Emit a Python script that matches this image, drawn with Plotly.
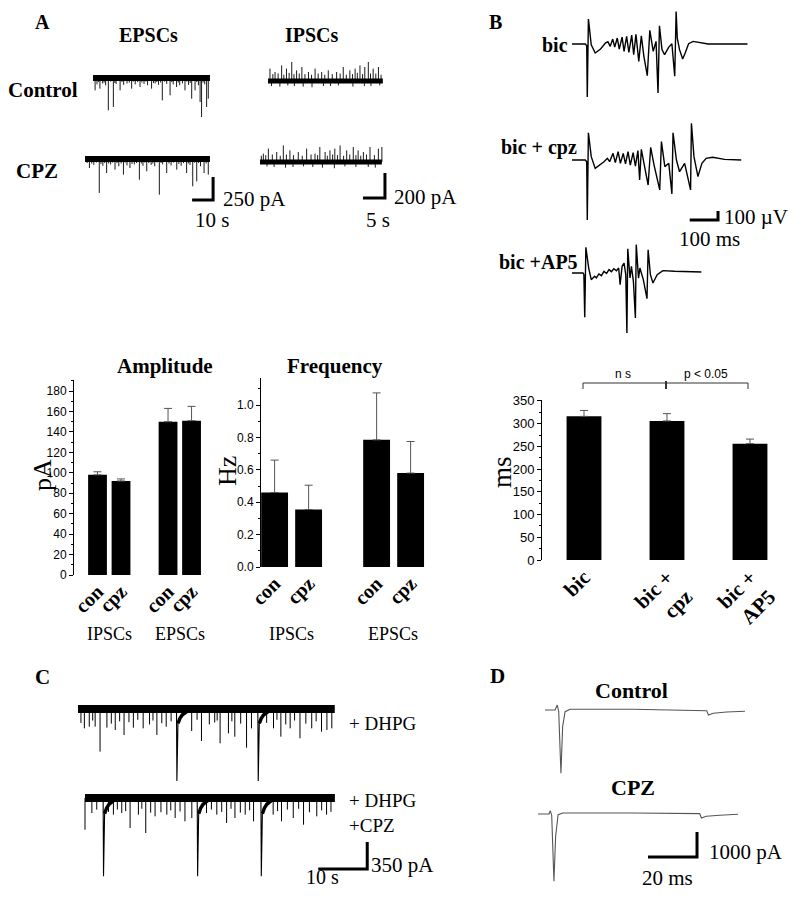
import plotly.graph_objects as go

W, H = 797, 899          # browser window (reference size)
OFF = 8                  # default page margin around the plot div
FW, FH = W - 2 * OFF, H - 2 * OFF
SERIF = "Liberation Serif"
SANS = "Liberation Sans"

# ======================= DATA =======================
# ---- Panel A: spontaneous EPSCs (time s, amplitude pA, inward) ----
epsc_ctrl_t = [1.0, 3.3, 7.3, 9.7, 12.9, 18.4, 22.4, 27.9, 33.0, 36.7, 39.8, 43.8, 47.0, 48.6, 51.0, 51.7, 54.1, 54.9,
               1.9, 4.6, 6.0, 11.0, 14.6, 16.2, 20.1, 24.3, 26.0, 29.6, 31.2, 35.1, 38.2, 41.3, 42.6, 45.5, 50.2, 53.2,
               2.6, 5.3, 8.4, 10.4, 13.8, 17.3, 19.2, 21.3, 23.3, 25.2, 28.8, 30.4, 32.2, 34.1, 37.5, 40.6, 44.7, 46.3, 49.4, 52.4]
epsc_ctrl_amp = [145, 127, 362, 326, 145, 127, 109, 127, 254, 199, 109, 145, 236, 145, 272, 435, 326, 236,
                 80, 70, 90, 75, 85, 70, 80, 75, 90, 70, 85, 75, 80, 90, 70, 85, 90, 80,
                 55, 60, 50, 65, 55, 60, 50, 55, 60, 50, 65, 55, 60, 50, 55, 60, 50, 65, 55, 60]
epsc_ctrl_dur = 55.7

epsc_cpz_t = [2.1, 6.8, 10.3, 14.3, 18.3, 21.4, 25.9, 29.4, 35.4, 38.9, 43.7, 48.4, 51.3, 53.2, 56.7, 58.7,
              4.2, 8.5, 12.2, 16.1, 20.0, 23.5, 27.6, 31.5, 33.2, 37.0, 41.0, 45.8, 50.0, 55.0,
              1.0, 3.2, 5.4, 7.6, 9.4, 11.3, 13.2, 15.2, 17.2, 19.1, 22.4, 24.6, 26.8, 28.5, 30.4, 32.3, 34.3,
              36.2, 40.0, 42.2, 44.7, 46.9, 49.2, 52.2, 54.1, 57.7]
epsc_cpz_amp = [109, 380, 163, 127, 181, 109, 236, 145, 399, 163, 127, 163, 308, 254, 163, 181,
                75, 85, 70, 90, 80, 70, 85, 75, 90, 70, 80, 85, 75, 90,
                55, 60, 50, 65, 55, 60, 50, 55, 60, 50, 65, 55, 60, 50, 55, 60, 50,
                55, 60, 50, 65, 55, 60, 50, 55, 60]
epsc_cpz_dur = 59.5

# ---- Panel A: spontaneous IPSCs (time s, amplitude pA, outward) ----
ipsc_ctrl_t = [0.45, 1.6, 3.1, 4.2, 5.4, 6.5, 7.7, 9.2, 10.7, 12.2, 13.7, 15.6, 17.1, 18.6, 19.8, 20.9, 22.0, 22.8, 23.9, 25.1,
               1.1, 2.3, 3.6, 4.8, 5.9, 7.1, 8.4, 9.9, 11.4, 12.9, 14.6, 16.4, 17.8, 19.2, 20.3, 21.5, 23.3, 24.5, 25.7]
ipsc_ctrl_amp = [99, 72, 125, 99, 152, 85, 112, 72, 99, 72, 85, 72, 112, 85, 99, 125, 112, 152, 99, 112,
                 55, 60, 50, 65, 55, 60, 55, 50, 60, 50, 55, 60, 50, 55, 65, 55, 60, 60, 50]
ipsc_ctrl_down_t = [0.8, 2.7, 4.5, 6.0, 8.0, 10.0, 12.6, 14.2, 16.0, 19.3, 21.9, 23.4, 25.4]
ipsc_ctrl_down_amp = [40, 45, 35, 40, 45, 50, 40, 40, 35, 45, 40, 40, 35]
ipsc_ctrl_dur = 26.1

ipsc_cpz_t = [0.76, 1.9, 3.8, 5.3, 6.8, 8.7, 10.6, 12.5, 13.6, 14.8, 15.9, 17.0, 18.2, 19.7, 21.2, 22.3, 23.5, 25.0, 26.9, 27.7,
              0.3, 1.3, 2.8, 4.6, 6.0, 7.6, 9.6, 11.6, 13.1, 15.3, 16.5, 17.6, 19.0, 20.4, 21.8, 22.9, 24.2, 26.0]
ipsc_cpz_amp = [67, 107, 80, 133, 93, 80, 107, 67, 120, 80, 93, 107, 133, 93, 120, 93, 80, 120, 107, 120,
                50, 55, 60, 50, 60, 55, 50, 60, 55, 50, 60, 55, 50, 60, 55, 50, 60, 55]
ipsc_cpz_down_t = [1.6, 3.2, 5.8, 7.5, 9.9, 12.0, 14.2, 16.9, 19.3, 21.8, 24.6, 26.2]
ipsc_cpz_down_amp = [35, 40, 45, 40, 35, 40, 45, 50, 35, 40, 40, 45]
ipsc_cpz_dur = 27.7

# ---- Panel A: bar charts ----
groups = ["IPSCs", "EPSCs"]
conds = ["con", "cpz"]
amp_vals = [98, 92, 150, 151]           # pA
amp_err = [3, 2, 13, 14]
freq_vals = [0.46, 0.355, 0.785, 0.58]  # Hz
freq_err = [0.20, 0.15, 0.29, 0.195]

# ---- Panel B: field potential traces (time ms, voltage µV) ----
bic_t = [0, 47, 52, 54, 58, 68, 82, 101, 118, 127, 135, 144, 151, 160, 167, 177, 184, 193, 201, 211, 218, 226, 236,
         245, 254, 266, 275, 287, 297, 304, 309, 318, 327, 342, 353, 363, 368, 372, 380, 391, 400, 412, 428, 445, 481, 620]
bic_v = [0, 0, -19, -589, 277, -8, -100, -56, 11, 26, -26, 55, -34, 66, -56, 77, -82, 85, -93, 100, -119, 107, -193,
         92, -137, -352, 151, -82, 29, -544, 203, -63, -119, -34, 3, -359, 362, 66, -63, -167, -100, 3, 29, 18, 0, 0]

bcpz_t = [0, 47, 52, 54, 58, 68, 82, 98, 113, 125, 133, 145, 153, 163, 171, 181, 189, 198, 206, 216, 224, 233, 239,
          245, 257, 269, 278, 290, 310, 316, 328, 342, 353, 357, 369, 380, 398, 419, 422, 431, 445, 459, 474, 497, 539, 598]
bcpz_v = [0, 0, -19, -666, 303, 37, -93, -56, -19, 19, -19, 74, -30, 93, -37, 74, -44, 93, -56, 81, -67, 104, -222,
          118, -74, -278, 141, -56, -333, 204, -74, -37, -377, 303, 0, -130, -37, -333, 407, 37, -185, -37, 19, 30, 7, 0]

bap5_t = [0, 39, 42, 45, 49, 59, 68, 76, 80, 86, 95, 104, 113, 122, 131, 139, 148, 157, 165, 170, 177, 184, 190, 194, 197,
          205, 210, 217, 224, 227, 235, 240, 252, 265, 269, 277, 286, 301, 321, 362, 457]
bap5_v = [0, 0, -19, -492, 285, 55, -74, -45, -37, -55, -11, -30, 19, -5, 37, 15, 48, 25, 55, -130, 74, 111, -19, -666, 270,
          -56, 74, -93, -500, 315, -56, 55, -74, -285, 259, -19, -111, -19, 26, 19, 11]

# ---- Panel B: burst duration bar chart ----
ms_cats = ["bic", "bic +<br>cpz", "bic +<br>AP5"]
ms_vals = [316, 306, 256]
ms_err = [13, 16, 10]
sig_labels = ["n s", "p < 0.05"]

# ---- Panel C: DHPG traces (time s, amplitude pA inward) ----
# large synchronous events (time, peak) and their recovery profile (s after peak, fraction of peak)
dhpg_big_t = [20.1, 36.7]
dhpg_big_amp = [934, 934]
dhpg_cpz_big_t = [3.7, 22.9, 35.9]
dhpg_cpz_big_amp = [1016, 1016, 1016]
recovery_dt = [0, 0.08, 0.3, 0.7, 1.2, 1.9, 2.8]
recovery_frac = [0, -1, -0.2, -0.13, -0.08, -0.04, 0]

dhpg_t = [4.5, 1.3, 2.3, 3.5, 5.9, 7.6, 9.4, 11.3, 13.3, 16.1, 18.0, 23.2, 25.2, 29.0, 30.7, 32.0, 34.4,
          35.4, 39.9, 41.4, 43.3, 45.3, 47.7, 49.7, 50.8, 51.8, 0.6, 6.8, 10.4, 14.6, 17.1, 26.8, 27.9, 33.2, 38.5, 42.4, 46.5,
          3.0, 8.5, 12.2, 15.3, 19.0, 24.3, 28.4, 31.4, 40.6, 44.2, 48.6]
dhpg_amp = [553, 251, 229, 229, 242, 272, 337, 242, 251, 337, 229, 285, 415, 445, 316, 359, 502,
            251, 251, 359, 251, 380, 251, 294, 272, 251, 180, 190, 170, 200, 185, 200, 175, 190, 180, 200, 190,
            150, 160, 140, 150, 160, 140, 150, 160, 140, 150, 160]
dhpg_dur = 52.4

dhpg_cpz_t = [0.0, 1.4, 2.4, 5.8, 7.5, 9.2, 10.9, 12.4, 14.3, 16.7, 18.4, 20.4, 21.8, 24.8, 26.9,
              28.9, 30.6, 32.7, 34.4, 38.4, 40.1, 42.5, 44.6, 47.3, 49.3, 4.8, 8.3, 13.4, 15.5, 19.4, 27.9, 31.7, 39.3, 45.8, 50.2,
              6.6, 11.6, 17.5, 25.8, 29.8, 33.6, 41.3, 43.6, 48.3]
dhpg_cpz_amp = [411, 195, 151, 216, 195, 389, 216, 454, 238, 216, 259, 303, 259, 195, 216,
                324, 259, 216, 303, 216, 303, 259, 346, 238, 216, 180, 170, 190, 185, 175, 180, 190, 170, 185, 180,
                150, 140, 160, 150, 140, 160, 150, 140, 160]
dhpg_cpz_dur = 51.0

# ---- Panel D: evoked currents (time ms, current pA) ----
d_ctrl_t = [0, 4.1, 5.0, 5.6, 6.5, 7.2, 8.2, 10.2, 36.1, 66.0, 66.7, 68.7, 74.1, 81.6]
d_ctrl_v = [0, 0, 200, -67, -2533, -667, -67, 27, 27, -27, -200, -133, -80, -53]
d_cpz_t = [0, 4.5, 5.0, 5.6, 6.5, 7.2, 8.2, 10.2, 38.8, 66.0, 66.7, 68.7, 74.2, 81.6]
d_cpz_v = [0, 0, 133, -67, -2693, -890, -27, 40, 40, 13, -160, -93, -53, -13]

# ======================= FIGURE =======================
fig = go.Figure()
layout = dict(width=FW, height=FH, margin=dict(l=0, r=0, t=0, b=0, pad=0, autoexpand=False),
              template="none", paper_bgcolor="white", plot_bgcolor="rgba(0,0,0,0)", showlegend=False)
annotations, shapes = [], []


def PX(px):
    return (px - OFF) / FW


def PY(py):
    return 1 - (py - OFF) / FH


def clampx(px):
    return min(max(px, OFF), W - OFF)


def clampy(py):
    return min(max(py, OFF), H - OFF)


def axkey(i, k):
    return f"{k}axis" + ("" if i == 1 else str(i))


def axref(i, k):
    return k + ("" if i == 1 else str(i))


def trace_axes(i, origin, scale, box):
    ox, oy = origin
    sx, sy = scale
    x0, x1, yt, yb = box
    x0, x1, yt, yb = clampx(x0), clampx(x1), clampy(yt), clampy(yb)
    layout[axkey(i, "x")] = dict(domain=[PX(x0), PX(x1)], range=[(x0 - ox) / sx, (x1 - ox) / sx],
                                 visible=False, anchor=axref(i, "y"), fixedrange=True, automargin=False)
    layout[axkey(i, "y")] = dict(domain=[PY(yb), PY(yt)], range=[(oy - yb) / sy, (oy - yt) / sy],
                                 visible=False, anchor=axref(i, "x"), fixedrange=True, automargin=False)


def line(i, x, y, width=1.0, color="black"):
    fig.add_trace(go.Scatter(x=x, y=y, mode="lines", line=dict(color=color, width=width),
                             xaxis=axref(i, "x"), yaxis=axref(i, "y"), hoverinfo="skip"))


def spikes(i, ts, amps, sign, width=1.0, color="black"):
    xs, ys = [], []
    for t, a in zip(ts, amps):
        xs += [t, t, None]
        ys += [0, sign * a, None]
    line(i, xs, ys, width, color)


def big_events(i, ts, amps, width=1.1):
    xs, ys = [], []
    for t, a in zip(ts, amps):
        xs += [t + d for d in recovery_dt] + [None]
        ys += [a * f for f in recovery_frac] + [None]
    line(i, xs, ys, width)
    # slightly thicker recovery tail, as the noisy band follows the slow recovery
    xs2, ys2 = [], []
    for t, a in zip(ts, amps):
        xs2 += [t + d for d in recovery_dt[2:]] + [None]
        ys2 += [a * f for f in recovery_frac[2:]] + [None]
    line(i, xs2, ys2, 3.5)


def scalebar(i, corner, sx_len, sy_len):
    cx, cy = corner
    line(i, [cx - sx_len, cx, cx], [cy, cy, cy + sy_len], width=3)


def text(s, px, py, size, bold=False, family=SERIF, xanchor="center", angle=0, yanchor="middle"):
    annotations.append(dict(text=f"<b>{s}</b>" if bold else s, x=PX(px), y=PY(py), xref="paper", yref="paper",
                            showarrow=False, xanchor=xanchor, yanchor=yanchor, textangle=angle,
                            font=dict(family=family, size=size, color="black")))


# ---- Panel A traces ----
EPSC_SC = (2.1, 0.092)
trace_axes(1, (93, 77), EPSC_SC, (85, 222, 60, 125))
line(1, [0, epsc_ctrl_dur], [-10, -10], width=6)
spikes(1, epsc_ctrl_t, epsc_ctrl_amp, -1, 0.9)
trace_axes(2, (85, 158), EPSC_SC, (80, 222, 140, 206))
line(2, [0, epsc_cpz_dur], [-10, -10], width=6)
spikes(2, epsc_cpz_t, epsc_cpz_amp, -1, 0.9)
scalebar(2, (61.0, -456), 10, 250)

IPSC_SC = (4.4, 0.125)
trace_axes(3, (268, 81), IPSC_SC, (260, 392, 50, 100))
line(3, [0, ipsc_ctrl_dur], [0, 0], width=5)
spikes(3, ipsc_ctrl_t, ipsc_ctrl_amp, 1, 0.9)
spikes(3, ipsc_ctrl_down_t, ipsc_ctrl_down_amp, -1, 0.9)
trace_axes(4, (260, 162), IPSC_SC, (255, 392, 135, 202))
line(4, [0, ipsc_cpz_dur], [0, 0], width=5)
spikes(4, ipsc_cpz_t, ipsc_cpz_amp, 1, 0.9)
spikes(4, ipsc_cpz_down_t, ipsc_cpz_down_amp, -1, 0.9)
scalebar(4, (28.4, -288), 5, 200)

# ---- Panel B traces ----
B_SC = (0.283, 0.09)
trace_axes(5, (572, 44), B_SC, (565, 760, 8, 102))
line(5, bic_t, bic_v, 1.4)
trace_axes(6, (572, 160), B_SC, (565, 760, 118, 226))
line(6, bcpz_t, bcpz_v, 1.4)
scalebar(6, (516, -667), 100, 100)
trace_axes(7, (572, 273), B_SC, (565, 760, 238, 336))
line(7, bap5_t, bap5_v, 1.4)

# ---- Panel C traces ----
C_SC = (4.9, 0.0771)
trace_axes(11, (78, 709), C_SC, (70, 372, 695, 785))
line(11, [0, dhpg_dur], [0, 0], 8)
spikes(11, dhpg_t, dhpg_amp, -1, 1.0)
big_events(11, dhpg_big_t, dhpg_big_amp)
trace_axes(12, (85, 798), C_SC, (75, 372, 785, 880))
line(12, [0, dhpg_cpz_dur], [0, 0], 8)
spikes(12, dhpg_cpz_t, dhpg_cpz_amp, -1, 1.0)
big_events(12, dhpg_cpz_big_t, dhpg_cpz_big_amp)
scalebar(12, (57.6, -921), 10, 350)

# ---- Panel D traces ----
D_SC = (2.45, 0.025)
trace_axes(13, (545, 710), D_SC, (535, 752, 695, 782))
line(13, d_ctrl_t, d_ctrl_v, 1.1, "#555")
trace_axes(14, (538, 814), D_SC, (530, 752, 800, 890))
line(14, d_cpz_t, d_cpz_v, 1.1, "#555")
scalebar(14, (64.9, -1720), 20, 1000)

# ---- Bar charts ----
bar_pos = [1, 2, 4, 5]
bar_labels = [f"<b>{c}</b>" for g in groups for c in conds]
err_style = dict(type="data", symmetric=False, color="#555", thickness=1, width=4)


def yaxis_style(dom, rng, dtick, minor, size, fmt=None):
    d = dict(domain=dom, range=rng, showline=True, linecolor="black", linewidth=1, ticks="outside", ticklen=4,
             tickcolor="black", dtick=dtick, tick0=0, showgrid=False, zeroline=False, fixedrange=True,
             automargin=False, tickfont=dict(family=SANS, size=size, color="black"),
             minor=dict(dtick=minor, ticks="outside", ticklen=2, tickcolor="black", showgrid=False))
    if fmt:
        d["tickformat"] = fmt
    return d


def xaxis_style(dom, rng, tickvals, ticktext, size):
    return dict(domain=dom, range=rng, tickvals=tickvals, ticktext=ticktext, tickangle=-45, showline=False,
                showgrid=False, zeroline=False, ticks="", fixedrange=True, automargin=False,
                tickfont=dict(family=SERIF, size=size, color="black"))


# Amplitude
fig.add_trace(go.Bar(x=bar_pos, y=amp_vals, width=0.8, marker=dict(color="black", line_width=0),
                     error_y=dict(array=amp_err, arrayminus=[0] * 4, **err_style), xaxis="x8", yaxis="y8"))
layout["xaxis8"] = dict(anchor="y8", **xaxis_style([PX(74), PX(212)], [0, 5.87], bar_pos, bar_labels, 20))
layout["yaxis8"] = dict(anchor="x8", **yaxis_style([PY(575), PY(380)], [0, 190.8], 20, 10, 12))

# Frequency
fig.add_trace(go.Bar(x=bar_pos, y=freq_vals, width=0.79, marker=dict(color="black", line_width=0),
                     error_y=dict(array=freq_err, arrayminus=[0] * 4, **err_style), xaxis="x9", yaxis="y9"))
layout["xaxis9"] = dict(anchor="y9", **xaxis_style([PX(261), PX(430)], [0.6, 5.57], bar_pos, bar_labels, 20))
layout["yaxis9"] = dict(anchor="x9", **yaxis_style([PY(567), PY(378)], [0, 1.167], 0.2, 0.1, 12, ".1f"))

# Burst duration
ms_pos = [1, 2, 3]
fig.add_trace(go.Bar(x=ms_pos, y=ms_vals, width=0.42, marker=dict(color="black", line_width=0),
                     error_y=dict(array=ms_err, arrayminus=[0] * 3, **err_style), xaxis="x10", yaxis="y10"))
layout["xaxis10"] = dict(anchor="y10", **xaxis_style([PX(542), PX(789)], [0.494, 3.47], ms_pos,
                                                     [f"<b>{c}</b>" for c in ms_cats], 21))
layout["yaxis10"] = dict(anchor="x10", **yaxis_style([PY(560), PY(400)], [0, 352], 50, 25, 13))


# significance bracket (paper coords from pixels)
def pline(x0, y0, x1, y1, w=1, color="#333"):
    shapes.append(dict(type="line", xref="paper", yref="paper", x0=PX(x0), y0=PY(y0), x1=PX(x1), y1=PY(y1),
                       line=dict(color=color, width=w)))


pline(583, 383, 748, 383)
pline(583, 383, 583, 389)
pline(748, 383, 748, 389)
pline(666, 381, 666, 389, 2)
text(sig_labels[0], 623, 374, 12, family=SANS)
text(sig_labels[1], 706, 374, 12, family=SANS)

# ---- Text labels ----
text("A", 42, 9, 20, True, yanchor="top")
text("B", 495, 9, 20, True, yanchor="top")
text("C", 42, 677, 21, True)
text("D", 497, 676, 21, True)

text("EPSCs", 148, 35, 20, True)
text("IPSCs", 312, 35, 20, True)
text("Control", 43, 90, 21, True)
text("CPZ", 37, 171, 21, True)
text("250 pA", 221, 199, 21, xanchor="left")
text("10 s", 193, 220, 21, xanchor="left")
text("200 pA", 392, 197, 21, xanchor="left")
text("5 s", 364, 220, 21, xanchor="left")

text("bic", 570, 45, 20, True, xanchor="right")
text("bic + cpz", 579, 147, 20, True, xanchor="right")
text("bic +AP5", 580, 262, 20, True, xanchor="right")
text("100 µV", 722, 217, 21, xanchor="left")
text("100 ms", 677, 239, 21, xanchor="left")

text("Amplitude", 165, 366, 21, True)
text("Frequency", 335, 366, 21, True)
text("pA", 42, 475, 26, angle=-90)
text("Hz", 227, 471, 26, angle=-90)
text("ms", 502, 472, 27, angle=-90)
for gx, g in zip([109, 180], groups):
    text(g, gx, 634, 18)
for gx, g in zip([291, 393], groups):
    text(g, gx, 634, 18)

text("+ DHPG", 347, 723, 19, xanchor="left")
text("+ DHPG", 347, 800, 19, xanchor="left")
text("+CPZ", 347, 825, 19, xanchor="left")
text("350 pA", 369, 865, 21, xanchor="left")
text("10 s", 304, 890, 20, xanchor="left", yanchor="bottom")

text("Control", 631, 690, 22, True)
text("CPZ", 633, 787, 22, True)
text("1000 pA", 707, 852, 21, xanchor="left")
text("20 ms", 640, 878, 21, xanchor="left")

layout["annotations"] = annotations
layout["shapes"] = shapes
fig.update_layout(**layout)
fig.write_html("out.html")
